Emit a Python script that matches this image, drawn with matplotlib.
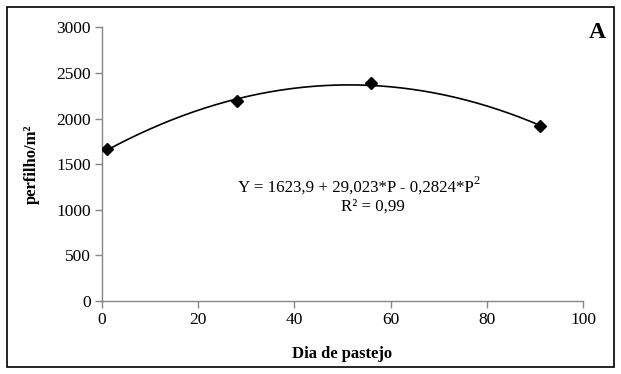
import numpy as np
import matplotlib
matplotlib.use("Agg")
import matplotlib.pyplot as plt
from matplotlib.patches import Rectangle

plt.rcParams['font.family'] = ['Liberation Serif', 'DejaVu Serif']

# dados
dias = [1, 28, 56, 91]
perfilhos = [1662, 2193, 2387, 1918]
# coeficientes da regressao (P^2, P, const)
coef = [-0.2824, 29.023, 1623.9]
x_ticks = [0, 20, 40, 60, 80, 100]
y_ticks = [0, 500, 1000, 1500, 2000, 2500, 3000]

fig = plt.figure(figsize=(6.21, 3.74), dpi=100)
ax = fig.add_axes([0.1643, 0.196, 0.7745, 0.7305])

# curva ajustada
p = np.linspace(dias[0], dias[-1], 200)
ax.plot(p, np.polyval(coef, p), color='black', lw=1.2, zorder=2)
ax.plot(dias, perfilhos, 'D', color='black', markersize=6.5, zorder=3)

ax.set_xlim(0, 100)
ax.set_ylim(0, 3000)
ax.set_xticks(x_ticks)
ax.set_yticks(y_ticks)

gray = '#868686'
for s in ['top', 'right']:
    ax.spines[s].set_visible(False)
for s in ['left', 'bottom']:
    ax.spines[s].set_color(gray)
    ax.spines[s].set_linewidth(1.0)
ax.tick_params(direction='out', length=5, width=1, color=gray,
               labelsize=12.5, labelcolor='black', pad=3)

ax.set_xlabel('Dia de pastejo', fontsize=12, fontweight='bold', labelpad=13)
ax.set_ylabel('perfilho/m²', fontsize=12, fontweight='bold', labelpad=12)

eq = ax.text(52.8, 1237, 'Y = 1623,9 + 29,023*P - 0,2824*P', ha='center',
             va='center', fontsize=12.2)
ax.annotate('2', xy=(1, 0.55), xycoords=eq, ha='left', va='bottom',
            fontsize=9)
ax.text(56.3, 1029, 'R² = 0,99', ha='center', va='center', fontsize=12.2)

fig.text(597 / 621, 1 - 32 / 374, 'A', ha='center', va='center',
         fontsize=17, fontweight='bold')

# moldura
fig.patches.append(Rectangle((7 / 621, 7 / 374), 607 / 621, 360 / 374,
                             transform=fig.transFigure, fill=False,
                             edgecolor='black', lw=1.2))

fig.savefig('out.png', dpi=100)
